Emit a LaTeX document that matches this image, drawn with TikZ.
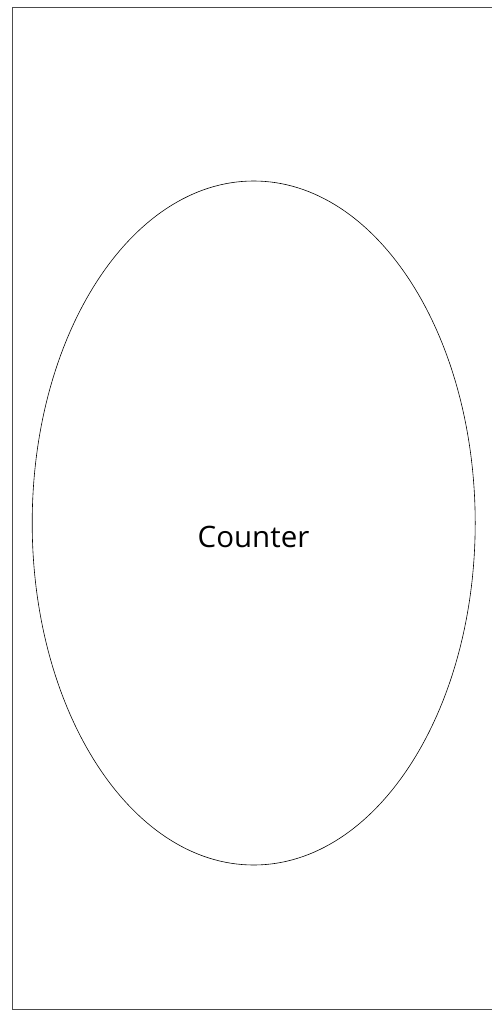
\documentclass[tikz,border=0pt]{standalone}
\usepackage{fontspec}
\setmainfont{Open Sans}
\usepackage{tikz}
\usetikzlibrary{positioning,shapes.geometric}
\tikzset{
  frame/.style={draw=black!70,line width=0.6pt},
  blob/.style={ellipse,draw=black,line width=0.6pt,inner sep=0pt,
    minimum width=443pt,minimum height=684pt},
  tag/.style={anchor=base,inner sep=0pt,font=\fontsize{29.5}{35}\selectfont},
}

\begin{document}
\begin{tikzpicture}[x=1pt,y=-1pt]
\useasboundingbox (0,0) rectangle (491,1011);
\coordinate (f0) at (12,7.5);
\coordinate (f1) at (497,1009.5);
\coordinate (c0) at (253.7,523);
\coordinate (t0) at (253.5,547);
\draw[frame] (f0) rectangle (f1);
\node[blob] (counter) at (c0) {};
\node[tag] (countertext) at (t0) {Counter};
\end{tikzpicture}
\end{document}
